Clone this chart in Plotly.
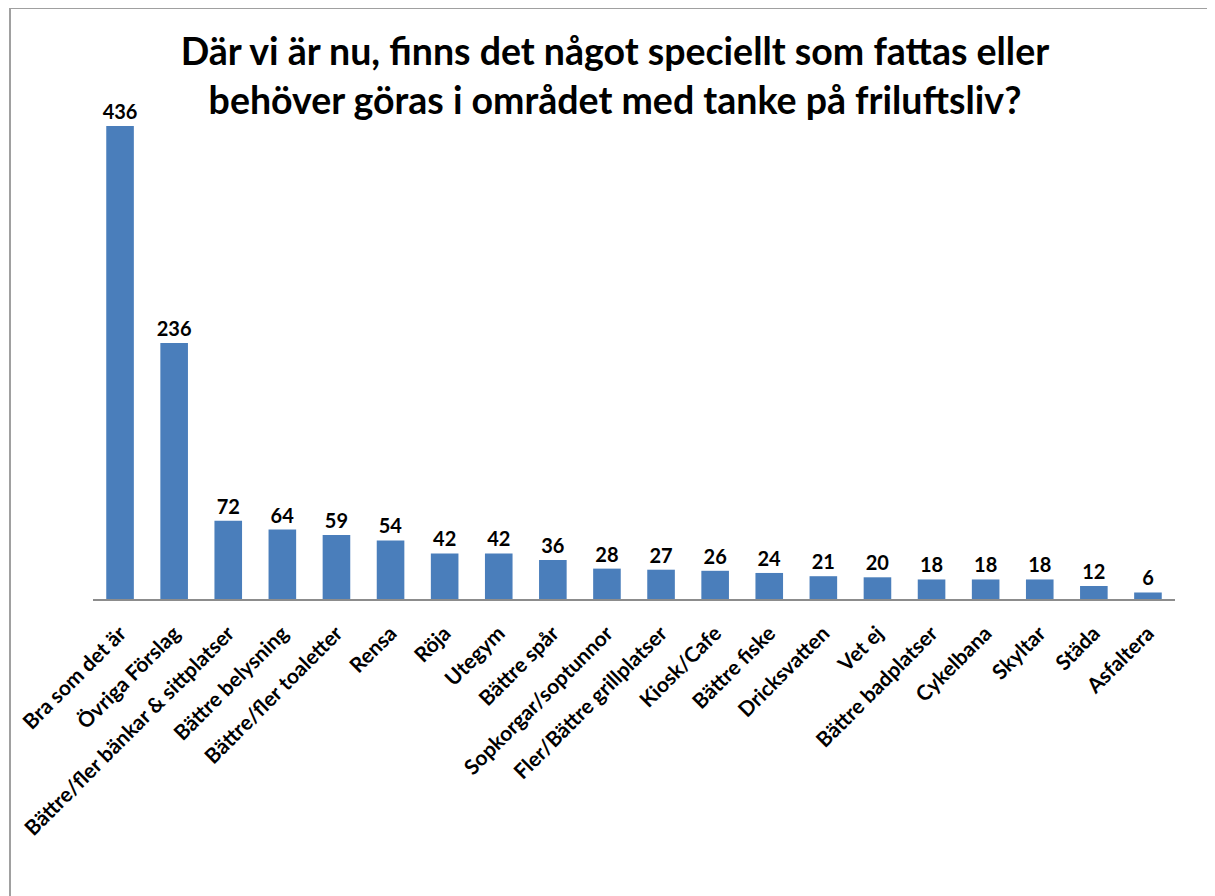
import plotly.graph_objects as go

categories = ["Bra som det är", "Övriga Förslag", "Bättre/fler bänkar & sittplatser",
              "Bättre belysning", "Bättre/fler toaletter", "Rensa", "Röja", "Utegym",
              "Bättre spår", "Sopkorgar/soptunnor", "Fler/Bättre grillplatser", "Kiosk/Cafe",
              "Bättre fiske", "Dricksvatten", "Vet ej", "Bättre badplatser", "Cykelbana",
              "Skyltar", "Städa", "Asfaltera"]
values = [436, 236, 72, 64, 59, 54, 42, 42, 36, 28, 27, 26, 24, 21, 20, 18, 18, 18, 12, 6]

title_text = "Där vi är nu, finns det något speciellt som fattas eller<br>behöver göras i området med tanke på friluftsliv?"

font_family = "Lato, Open Sans, sans-serif"

# page has an 8px body margin, so figure coords = page coords - 8
OFF = 8
plot_left, plot_right, plot_top, plot_bottom = 93 - OFF, 1175 - OFF, 89 - OFF, 599 - OFF
W, H = 1215, 896
pw, ph = plot_right - plot_left, plot_bottom - plot_top

fig = go.Figure(go.Bar(
    x=categories, y=values,
    marker=dict(color="#4A7EBB", line=dict(width=0)),
    text=values, textposition="outside", cliponaxis=False, constraintext="none",
    textfont=dict(family=font_family, size=20, color="#000000"),
    texttemplate="<b>%{text}</b>",
))

fig.update_layout(
    width=W, height=H,
    paper_bgcolor="white", plot_bgcolor="white",
    margin=dict(l=plot_left, r=W - plot_right, t=plot_top, b=H - plot_bottom, autoexpand=False),
    bargap=0.49,
    showlegend=False,
    title=dict(text="<b>" + title_text + "</b>", x=0.4996, xanchor="center",
               y=0.936, yanchor="top",
               font=dict(family=font_family, size=37.5, color="#000000")),
    xaxis=dict(showline=True, linecolor="#8C8C8C", linewidth=1.5, ticks="",
               tickangle=-45, showgrid=False, ticklabelstandoff=12,
               tickfont=dict(family=font_family, size=21, color="#000000", weight="bold")),
    yaxis=dict(range=[0, 470], visible=False, showgrid=False),
)

# outer frame (left and top)
fx = (10 - OFF - plot_left) / pw
fy_top = (plot_bottom - (7 - OFF + 1)) / ph
fy_bot = (plot_bottom - H) / ph
fig.add_shape(type="line", xref="paper", yref="paper",
              x0=fx, x1=fx, y0=fy_bot, y1=fy_top,
              line=dict(color="#A0A0A0", width=2))
fig.add_shape(type="line", xref="paper", yref="paper",
              x0=fx, x1=(W - plot_left) / pw, y0=fy_top, y1=fy_top,
              line=dict(color="#A0A0A0", width=2))

fig.write_html("out.html")
